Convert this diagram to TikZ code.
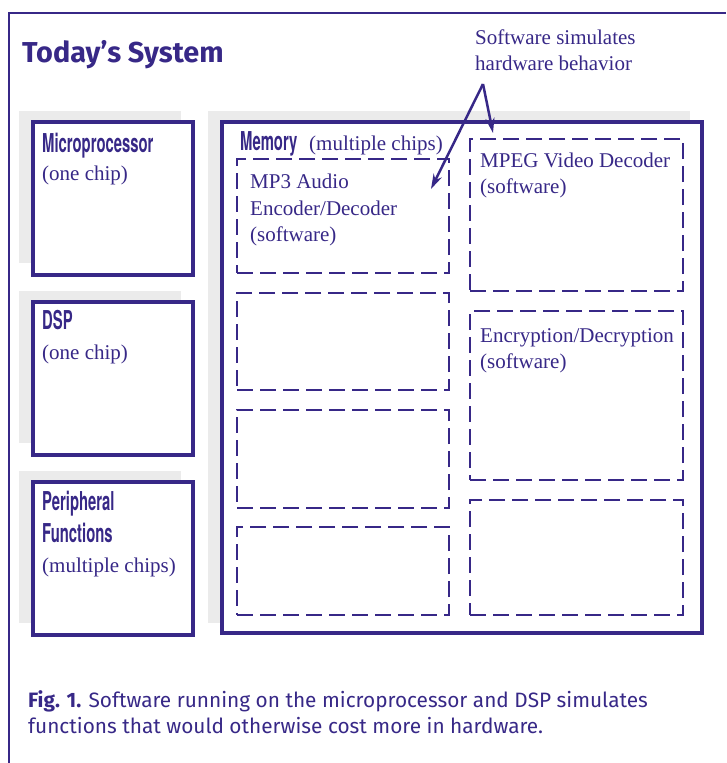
\documentclass[tikz,border=0pt]{standalone}
\usepackage{fontspec}
\setmainfont{Liberation Serif}
\newfontfamily\capfont{Fira Sans}
\newfontfamily\condfont[FakeStretch=0.57]{TeX Gyre Heros}
\usetikzlibrary{arrows.meta}
\definecolor{ink}{RGB}{55,40,135}
\definecolor{shadowgray}{RGB}{235,235,235}
\tikzset{
  solidbox/.style={draw=ink, line width=4pt, fill=white, rectangle, inner sep=0pt, anchor=north west},
  dashbox/.style={draw=ink, line width=2pt, dash pattern=on 16pt off 7pt, rectangle, inner sep=0pt, anchor=north west},
  txt/.style={anchor=base west, inner sep=0pt, text=ink, font=\fontsize{21}{26}\selectfont},
  cond/.style={anchor=base west, inner sep=0pt, text=ink, font=\condfont\bfseries\fontsize{26}{30}\selectfont},
  captxt/.style={anchor=base west, inner sep=0pt, text=ink, font=\capfont\fontsize{20.8}{26}\selectfont},
  pointer/.style={draw=ink, line width=2.5pt, -{Stealth[length=15pt,width=9pt]}}
}
\begin{document}
\begin{tikzpicture}[x=1pt,y=-1pt]
\useasboundingbox (0,0) rectangle (726,763);
% outer frame
\draw[ink, line width=2pt] (9,763) -- (9,13) -- (726,13);
\node[anchor=base west, inner sep=0pt, text=ink, font=\capfont\bfseries\fontsize{28.8}{30}\selectfont] (title) at (22,62) {Today’s System};
% shadows
\fill[shadowgray] (19,111) rectangle (181,263);
\fill[shadowgray] (19,291) rectangle (181,443);
\fill[shadowgray] (19,471) rectangle (181,623);
\fill[shadowgray] (208,111) rectangle (690,623);
% solid boxes
\node[solidbox, minimum width=160pt, minimum height=153pt] (mp) at (31,120) {};
\node[solidbox, minimum width=160pt, minimum height=153pt] (dsp) at (31,300) {};
\node[solidbox, minimum width=160pt, minimum height=153pt] (per) at (31,480) {};
\node[solidbox, minimum width=480pt, minimum height=511pt] (mem) at (220,120) {};
% dashed boxes
\node[dashbox, minimum width=212pt, minimum height=114pt] (l1) at (236,158) {};
\node[dashbox, minimum width=212pt, minimum height=97pt] (l2) at (236,292) {};
\node[dashbox, minimum width=212pt, minimum height=98pt] (l3) at (236,409) {};
\node[dashbox, minimum width=212pt, minimum height=88pt] (l4) at (236,526) {};
\node[dashbox, minimum width=213pt, minimum height=152pt] (r1) at (469,138) {};
\node[dashbox, minimum width=213pt, minimum height=169pt] (r2) at (469,310) {};
\node[dashbox, minimum width=213pt, minimum height=115pt] (r3) at (469,499) {};
% texts
\node[cond] (mpA) at (42,152) {Microprocessor};
\node[txt] (mpB) at (42,180) {(one chip)};
\node[cond] (dspA) at (42,329) {DSP};
\node[txt] (dspB) at (42,359) {(one chip)};
\node[cond] (perA) at (42,510) {Peripheral};
\node[cond] (perB) at (42,542) {Functions};
\node[txt] (perC) at (42,572) {(multiple chips)};
\node[cond] (memA) at (240,150) {Memory};
\node[txt] (memB) at (309,150) {(multiple chips)};
\node[txt] (mp3A) at (250,188) {MP3 Audio};
\node[txt] (mp3B) at (250,215) {Encoder/Decoder};
\node[txt] (mp3C) at (250,241) {(software)};
\node[txt] (mpgA) at (480,167) {MPEG Video Decoder};
\node[txt] (mpgB) at (480,193) {(software)};
\node[txt] (encA) at (480,342) {Encryption/Decryption};
\node[txt] (encB) at (480,368) {(software)};
\node[txt] (swA) at (475,44) {Software simulates};
\node[txt] (swB) at (475,70) {hardware behavior};
% pointers
\coordinate (apex) at (483,84);
\coordinate (tipL) at (431,189);
\coordinate (tipR) at (493,133);
\draw[pointer] (apex) -- (tipL);
\draw[pointer] (apex) -- (tipR);
% caption
\node[captxt] (capA) at (28,707) {\textbf{Fig. 1.} Software running on the microprocessor and DSP simulates};
\node[captxt] (capB) at (28,733) {functions that would otherwise cost more in hardware.};
\end{tikzpicture}
\end{document}
